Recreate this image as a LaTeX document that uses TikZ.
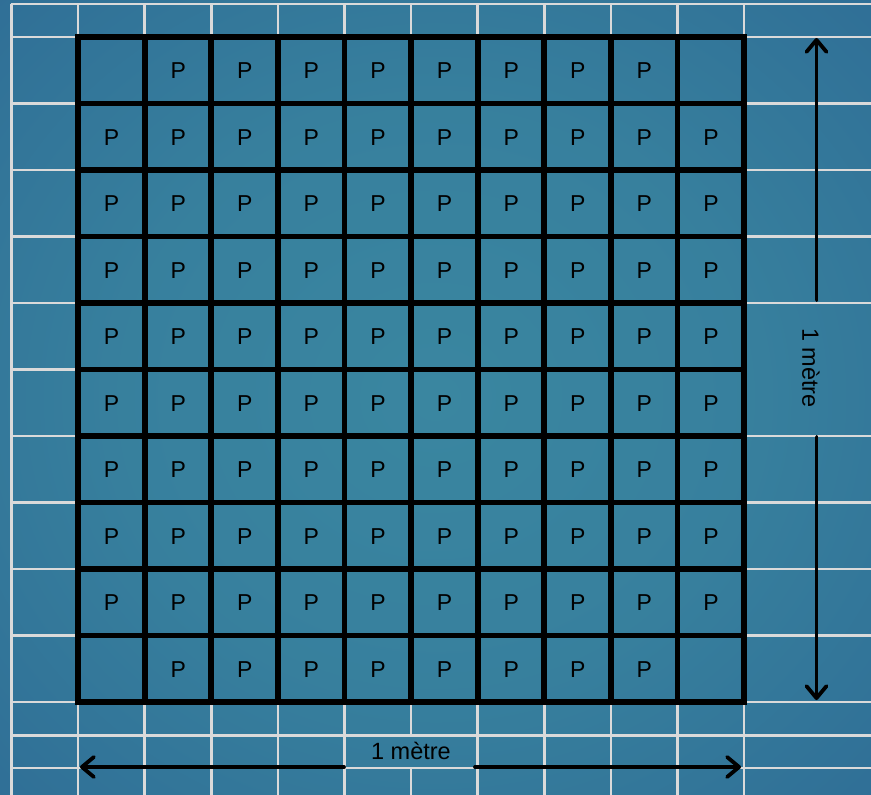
\documentclass[tikz,border=0pt]{standalone}
\usepackage{fontspec}
\setmainfont{Liberation Sans}
\usetikzlibrary{arrows.meta}
\definecolor{bgin}{HTML}{3A86A0}
\definecolor{bgmid}{HTML}{2C6793}
\definecolor{bgout}{HTML}{204C86}
\definecolor{wline}{HTML}{DADADA}
\pgfdeclareradialshading{bgshade}{\pgfpoint{0bp}{0bp}}{color(0bp)=(bgin); color(18bp)=(bgin!80!bgmid); color(44bp)=(bgmid); color(72bp)=(bgout)}
\tikzset{
  wl/.style={draw=wline, line width=2.6pt},
  bl/.style={draw=black, line width=5.8pt},
  pl/.style={font=\fontsize{23}{27}\selectfont, text=black, inner sep=0pt},
  lbl/.style={font=\fontsize{23.5}{28}\selectfont, text=black, inner sep=0pt},
  arr/.style={draw=black, line width=3.8pt, line cap=round, -{Straight Barb[length=12pt,width=20pt,line cap=round,line join=round]}}
}
\begin{document}
\begin{tikzpicture}[x=1pt,y=-1pt]
\path[use as bounding box] (0,0) rectangle (871,795);
\shade[shading=bgshade] (0,0) rectangle (871,795);
% white background grid
\foreach \k in {-1,0,1,2,3,4,6,7,8,9,10}
  \draw[wl] ({78+66.6*\k},4) -- ({78+66.6*\k},795);
\draw[wl] (411,4) -- (411,735.5);
\draw[wl] (411,768) -- (411,795);
\foreach \y in {4,37,103.5,170,236.5,303,436,502.5,569,635.5,702,735.5,768}
  \draw[wl] (10.7,\y) -- (871,\y);
\draw[wl] (10.7,369.5) -- (744,369.5);
% black grid
\foreach \k in {1,...,9} {
  \draw[bl] ({78+66.6*\k},37) -- ({78+66.6*\k},702);
  \draw[bl] (78,{37+66.5*\k}) -- (744,{37+66.5*\k});
}
\draw[bl, line join=miter] (78,37) rectangle (744,702);
% P labels
\foreach \r in {0,...,9}
  \foreach \c in {0,...,9} {
    \pgfmathtruncatemacro{\corner}{((\r==0)||(\r==9))&&((\c==0)||(\c==9)) ? 1 : 0}
    \ifnum\corner=0
      \node[pl] (p-\r-\c) at ({111.6+66.6*\c},{71+66.5*\r}) {P};
    \fi
  }
% dimension labels
\node[lbl] (lb) at (411,751) {1 mètre};
\node[lbl, rotate=-90] (lr) at (811,368) {1 mètre};
% arrows
\coordinate (rt0) at (816.5,300);
\coordinate (rt1) at (816.5,38);
\coordinate (rb0) at (816.5,437);
\coordinate (rb1) at (816.5,700);
\coordinate (bl0) at (344,767);
\coordinate (bl1) at (80,767);
\coordinate (br0) at (475,767);
\coordinate (br1) at (741,767);
\draw[arr] (rt0) -- (rt1);
\draw[arr] (rb0) -- (rb1);
\draw[arr] (bl0) -- (bl1);
\draw[arr] (br0) -- (br1);
\end{tikzpicture}
\end{document}
